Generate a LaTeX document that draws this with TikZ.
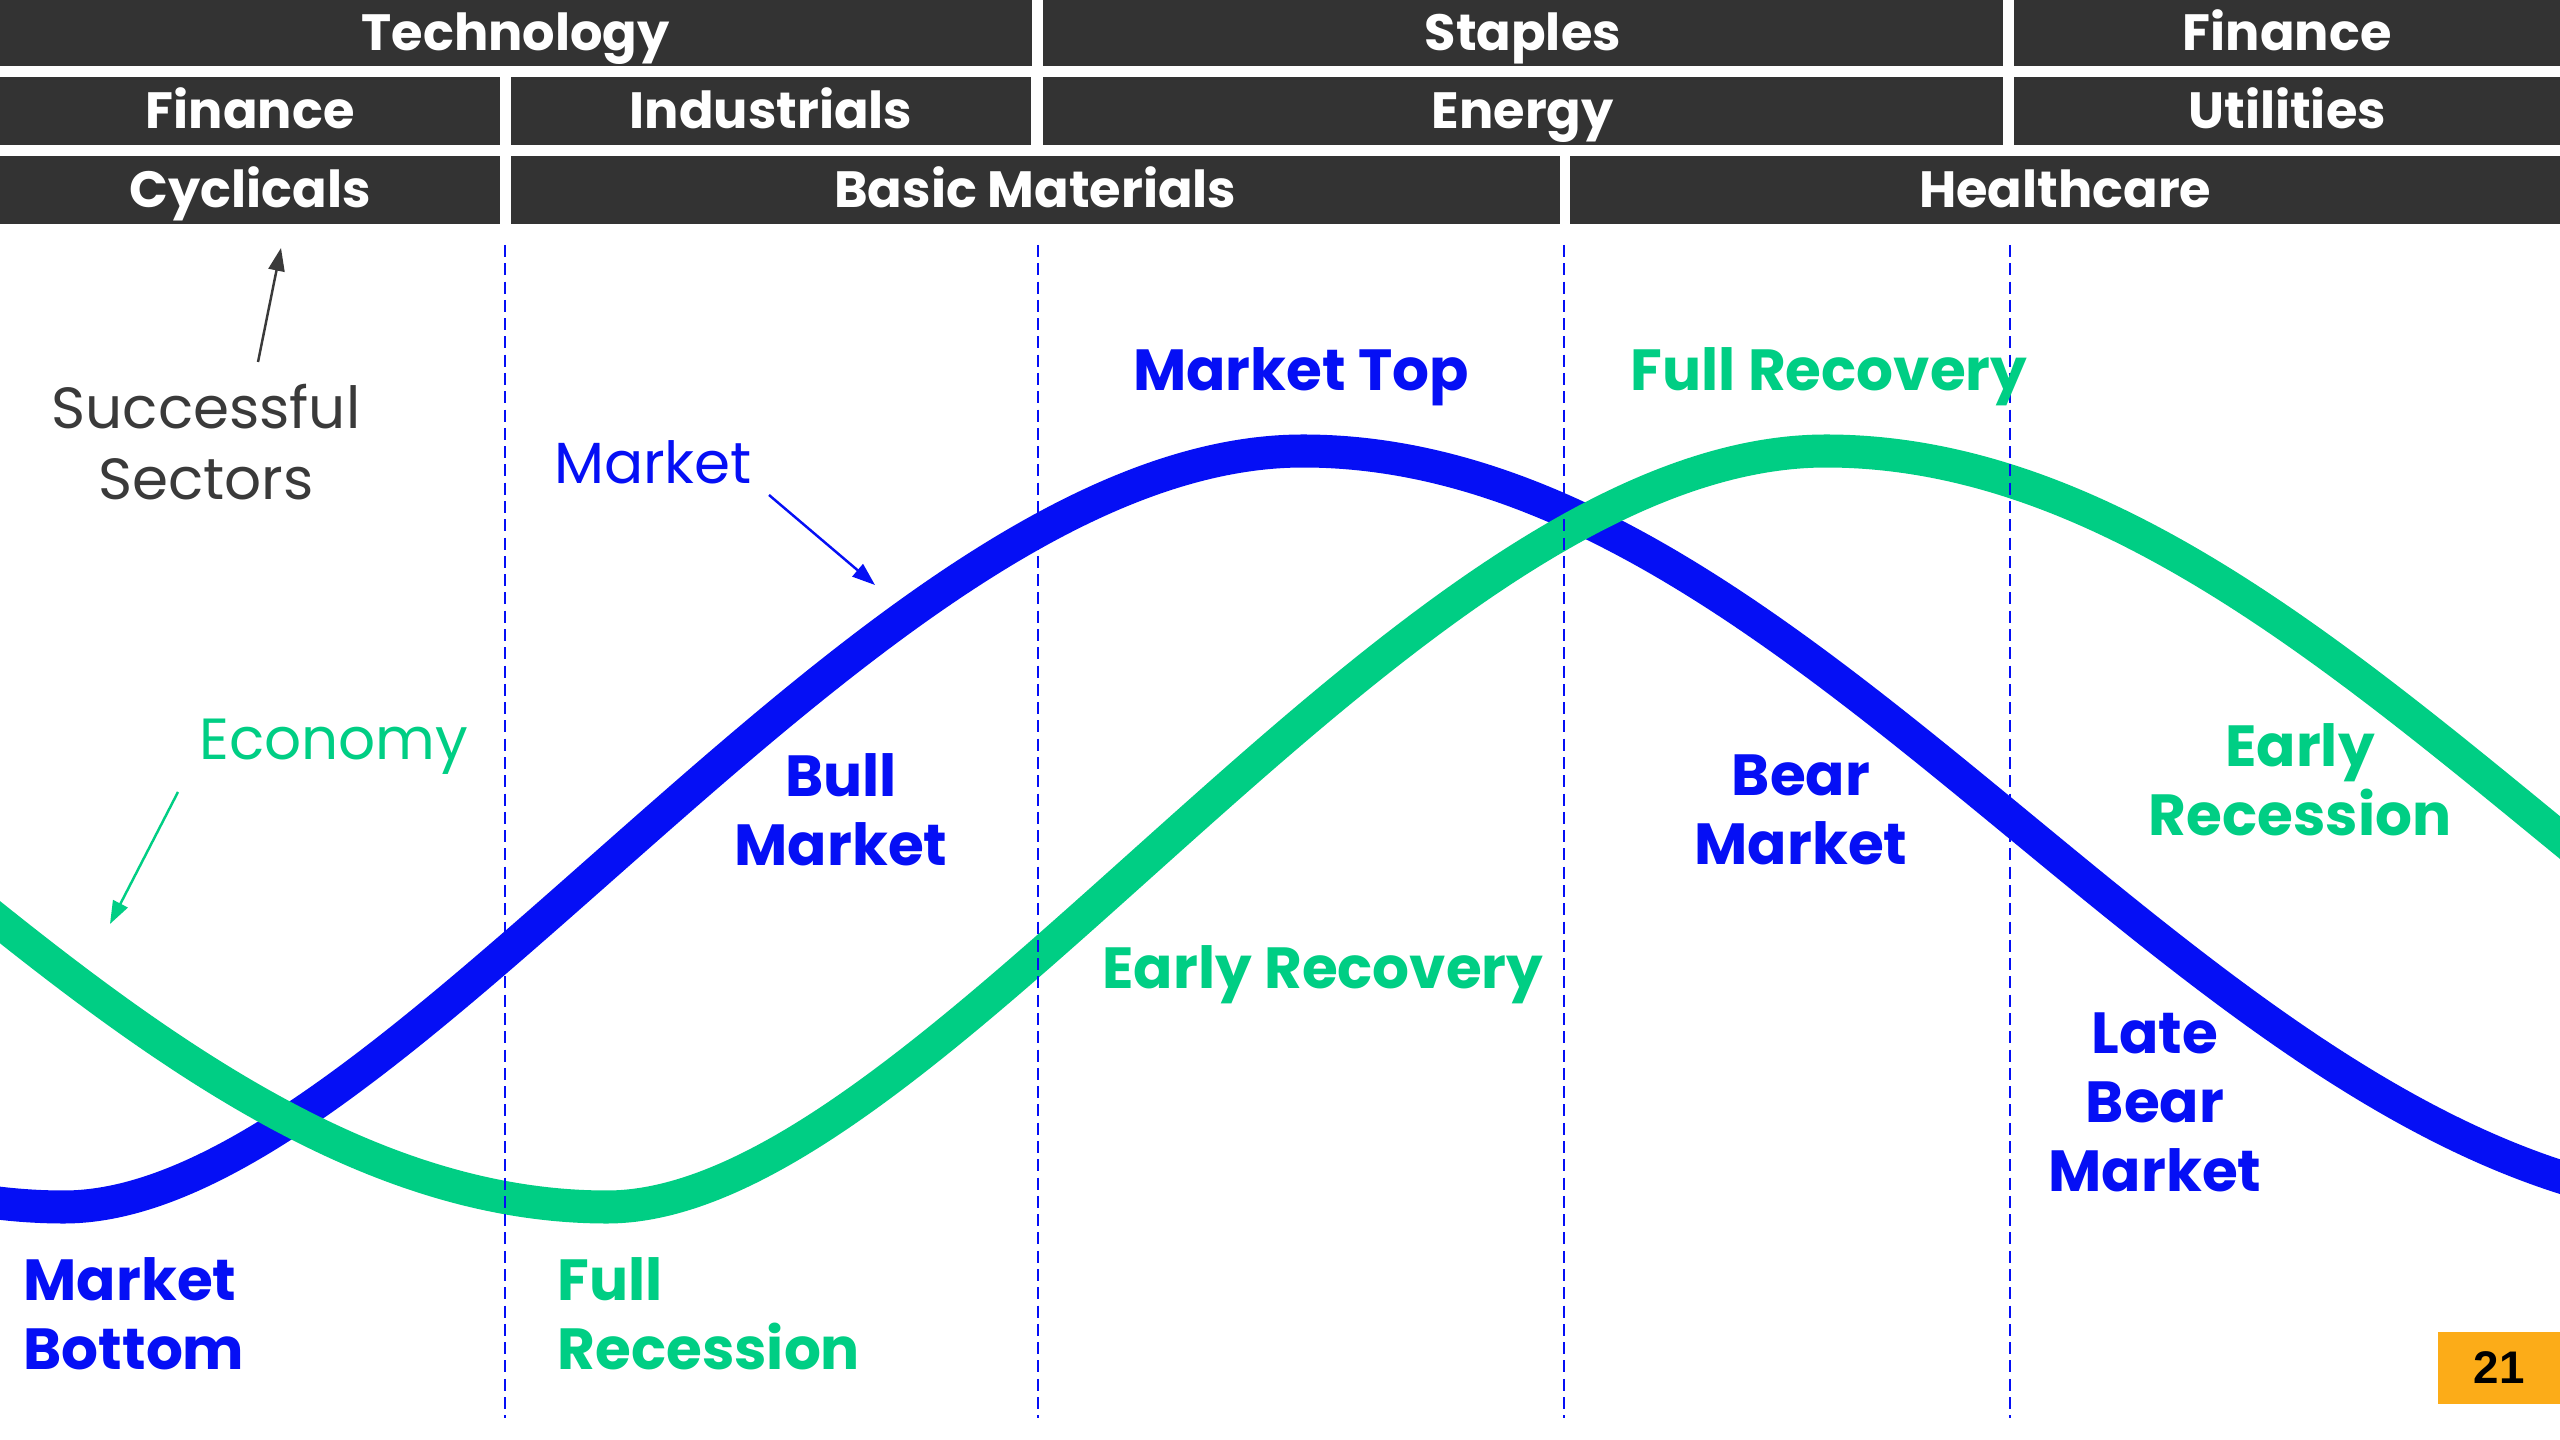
\documentclass[tikz,border=0pt]{standalone}
\usepackage{fontspec}
\setmainfont{Poppins}
\newfontfamily\arialfont{Liberation Sans}
\usetikzlibrary{arrows.meta}
\definecolor{mblue}{RGB}{5,15,245}
\definecolor{egreen}{RGB}{0,206,132}
\definecolor{bardark}{RGB}{51,51,51}
\definecolor{badgeorange}{RGB}{252,172,24}
\definecolor{greytxt}{RGB}{58,58,58}
\begin{document}
\begin{tikzpicture}[x=0.01cm,y=-0.01cm,
  bar/.style={fill=bardark, text=white, inner sep=0pt, outer sep=0pt, anchor=north west,
    font=\fontsize{14.5}{17}\selectfont\bfseries, text height=10.2pt, text depth=0pt},
  curve/.style={line width=0.33cm},
  divider/.style={mblue, line width=0.8pt, dash pattern=on 3.4pt off 1.8pt},
  lbl/.style={inner sep=0pt, font=\fontsize{16.5}{19.6}\selectfont\bfseries, align=center},
  thin/.style={inner sep=0pt, font=\fontsize{16.5}{20}\selectfont, align=center},
  ptr/.style={line width=0.7pt, -{Triangle[length=6.5pt, width=4.6pt]}}]
\useasboundingbox (0,0) rectangle (2560,1440);
\fill[white] (0,0) rectangle (2560,1440);
% sector bars
\node[bar, minimum width=10.31cm, minimum height=0.66cm] (tech) at (0,0) {Technology};
\node[bar, minimum width=9.59cm, minimum height=0.66cm] (stap) at (1043,0) {Staples};
\node[bar, minimum width=5.46cm, minimum height=0.66cm] (fina) at (2014,0) {Finance};
\node[bar, minimum width=5.00cm, minimum height=0.68cm] (finb) at (0,77) {Finance};
\node[bar, minimum width=5.20cm, minimum height=0.68cm] (indu) at (511,77) {Industrials};
\node[bar, minimum width=9.59cm, minimum height=0.68cm] (ener) at (1043,77) {Energy};
\node[bar, minimum width=5.46cm, minimum height=0.68cm] (util) at (2014,77) {Utilities};
\node[bar, minimum width=5.00cm, minimum height=0.68cm] (cycl) at (0,156) {Cyclicals};
\node[bar, minimum width=10.48cm, minimum height=0.68cm] (basi) at (511,156) {Basic Materials};
\node[bar, minimum width=9.90cm, minimum height=0.68cm] (heal) at (1570,156) {Healthcare};
% curves
\begin{scope}
\clip (0,0) rectangle (2560,1440);
\draw[curve, mblue] (-1377,451) .. controls (-854,451) and (-459,1207) .. (64,1207)
  .. controls (394,1207) and (873,451) .. (1303,451)
  .. controls (1826,451) and (2221,1207) .. (2744,1207);
\draw[curve, egreen] (-836,451) .. controls (-312,451) and (83,1207) .. (607,1207)
  .. controls (932,1207) and (1406,451) .. (1826,451)
  .. controls (2351,451) and (2748,1207) .. (3273,1207);
\end{scope}
% dashed phase dividers
\coordinate (d1t) at (505,245);  \coordinate (d1b) at (505,1418);
\coordinate (d2t) at (1038,245); \coordinate (d2b) at (1038,1418);
\coordinate (d3t) at (1564,245); \coordinate (d3b) at (1564,1418);
\coordinate (d4t) at (2010,245); \coordinate (d4b) at (2010,1418);
\draw[divider] (d1t) -- (d1b);
\draw[divider] (d2t) -- (d2b);
\draw[divider] (d3t) -- (d3b);
\draw[divider] (d4t) -- (d4b);
% annotations
\node[thin, text=greytxt] (succ) at (206,442) {Successful\\Sectors};
\coordinate (ssA) at (258,362); \coordinate (ssB) at (281,248);
\draw[ptr, greytxt] (ssA) -- (ssB);
\node[thin, text=mblue] (mkt) at (653,462) {Market};
\coordinate (mkA) at (769,495); \coordinate (mkB) at (875,585);
\draw[ptr, mblue] (mkA) -- (mkB);
\node[thin, text=egreen] (econ) at (334,747) {Economy};
\coordinate (ecA) at (178,792); \coordinate (ecB) at (110,924);
\draw[ptr, egreen] (ecA) -- (ecB);
% phase labels
\node[lbl, text=mblue] (mtop) at (1301,377) {Market Top};
\node[lbl, text=egreen] (frec) at (1829,377) {Full Recovery};
\node[lbl, text=mblue] (bull) at (841,810) {Bull\\Market};
\node[lbl, text=mblue] (bear) at (1801,810) {Bear\\Market};
\node[lbl, text=egreen] (erec) at (2300,780) {Early\\Recession};
\node[lbl, text=egreen] (ecov) at (1323,975) {Early Recovery};
\node[lbl, text=mblue] (lbear) at (2155,1102) {Late\\Bear\\Market};
\node[lbl, text=mblue, anchor=west, align=left] (mbot) at (23,1314) {Market\\Bottom};
\node[lbl, text=egreen, anchor=west, align=left] (fullr) at (557,1314) {Full\\Recession};
% page badge
\node[fill=badgeorange, minimum width=1.23cm, minimum height=0.72cm, anchor=north west, inner sep=0pt,
  font=\arialfont\bfseries\fontsize{13}{15}\selectfont] (page) at (2437,1331) {21};
\end{tikzpicture}
\end{document}
